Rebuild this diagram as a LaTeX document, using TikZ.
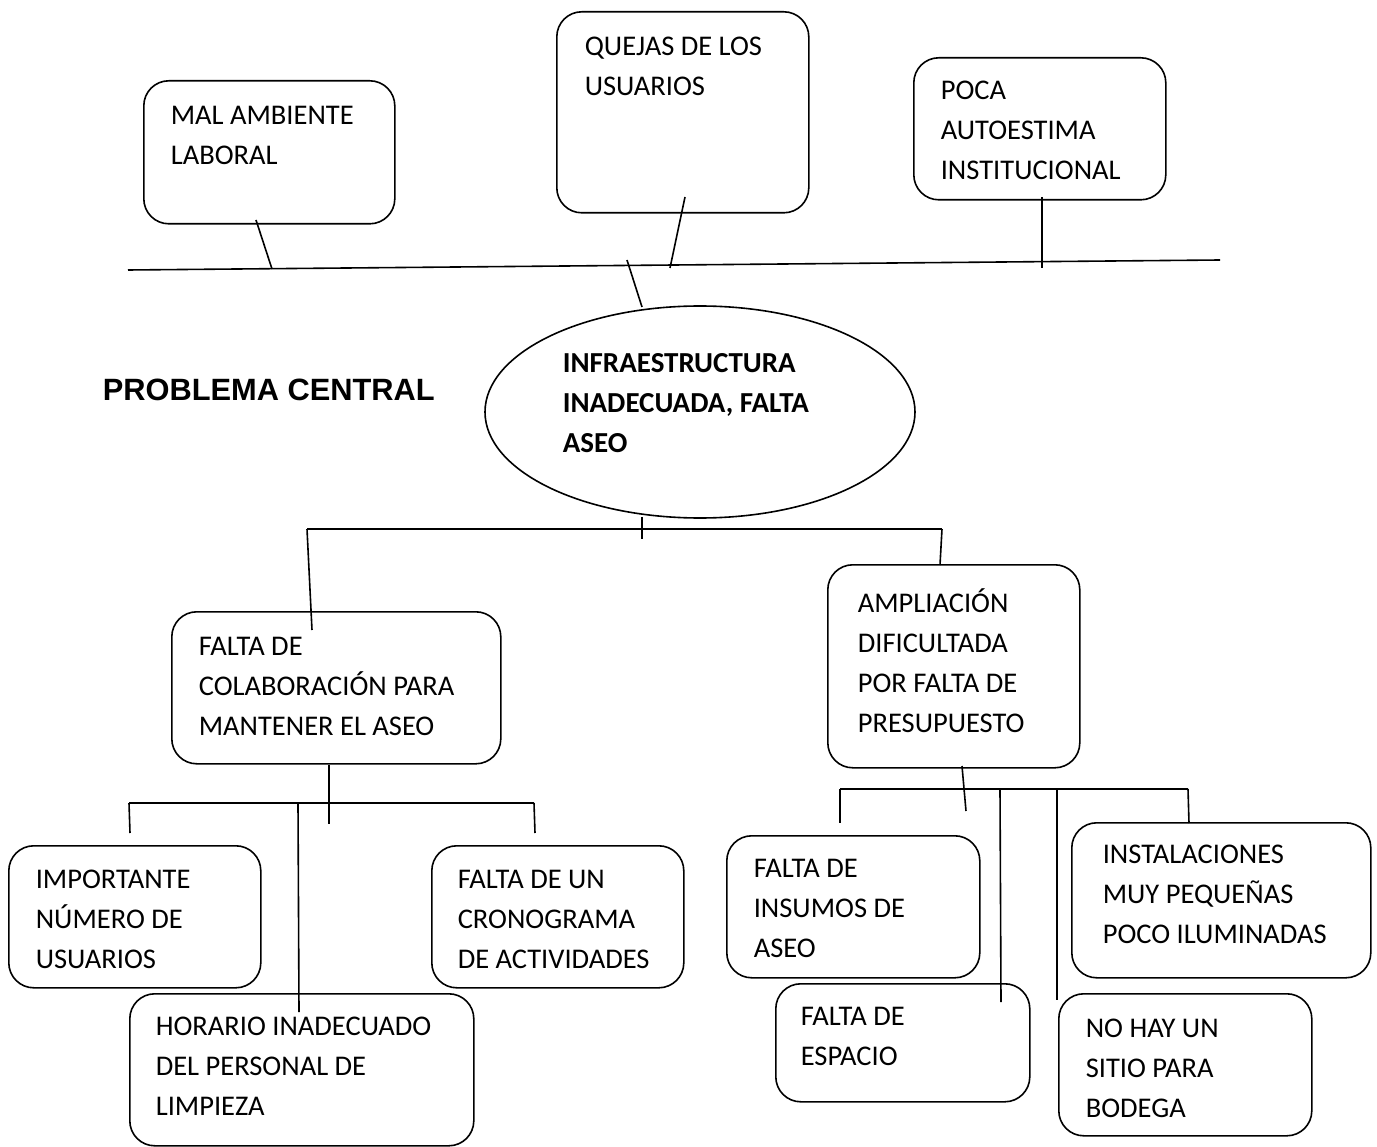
\documentclass[tikz,border=0pt]{standalone}
\usepackage{fontspec}
\setmainfont{Carlito}
\newfontfamily\titlefont{Liberation Sans}
\usetikzlibrary{shapes.geometric}
\newcommand\ml[1]{\begin{tabular}[t]{@{}l@{}}#1\end{tabular}}
\begin{document}
\begin{tikzpicture}[x=1pt,y=-1pt,line width=1.6pt,
  box/.style={draw, rounded corners=25pt, anchor=north west, inner sep=0pt},
  txt/.style={anchor=base west, inner sep=0pt, font=\fontsize{28.5}{40}\selectfont},
  btxt/.style={txt, font=\bfseries\fontsize{29}{40}\selectfont}]
\useasboundingbox (0,0) rectangle (1377,1147);

% top boxes
\node[box, minimum width=251, minimum height=143] (b1) at (143,80) {};
\node[txt] (t1) at (170,125) {\ml{MAL AMBIENTE\\LABORAL}};
\node[box, minimum width=252, minimum height=201] (b2) at (556,11) {};
\node[txt] (t2) at (584,56) {\ml{QUEJAS DE LOS\\USUARIOS}};
\node[box, minimum width=252, minimum height=142] (b3) at (913,57) {};
\node[txt] (t3) at (940,100) {\ml{POCA\\AUTOESTIMA\\INSTITUCIONAL}};

% spine
\coordinate (sL) at (128,270);
\coordinate (sR) at (1220,260);
\draw (sL) -- (sR);
\coordinate (b1a) at (256,220); \coordinate (b1b) at (272,269);
\draw (b1a) -- (b1b);
\coordinate (b2a) at (685,197); \coordinate (b2b) at (670,268);
\draw (b2a) -- (b2b);
\coordinate (b3a) at (1042,197); \coordinate (b3b) at (1042,268);
\draw (b3a) -- (b3b);

% central problem
\node[anchor=base west, inner sep=0pt, font=\titlefont\bfseries\fontsize{30.8}{36}\selectfont] (title) at (102,401) {PROBLEMA CENTRAL};
\node[draw, ellipse, minimum width=430, minimum height=212, inner sep=0pt] (pc) at (700,412) {};
\node[btxt] (tpc) at (562,373) {\ml{INFRAESTRUCTURA\\INADECUADA, FALTA\\ASEO}};
\coordinate (pa) at (627,260); \coordinate (pb) at (642,307);
\draw (pa) -- (pb);

% branch below ellipse
\coordinate (k1) at (642,517); \coordinate (k2) at (642,539);
\draw (k1) -- (k2);
\coordinate (hL) at (307,529); \coordinate (hR) at (942,529);
\draw (hL) -- (hR);
\coordinate (hLd) at (312,630); \coordinate (hRd) at (940,565);
\draw (hL) -- (hLd);
\draw (hR) -- (hRd);

% second level boxes
\node[box, minimum width=329, minimum height=152] (c1) at (171,611) {};
\node[txt] (tc1) at (198,655) {\ml{FALTA DE\\COLABORACIÓN PARA\\MANTENER EL ASEO}};
\node[box, minimum width=252, minimum height=203] (c2) at (827,564) {};
\node[txt] (tc2) at (857,612) {\ml{AMPLIACIÓN\\DIFICULTADA\\POR FALTA DE\\PRESUPUESTO}};

% left sub-branch
\coordinate (c1a) at (329,765); \coordinate (c1b) at (329,824);
\draw (c1a) -- (c1b);
\coordinate (lL) at (129,803); \coordinate (lR) at (534,803);
\draw (lL) -- (lR);
\coordinate (lLd) at (130,833); \coordinate (lRd) at (535,833);
\draw (lL) -- (lLd);
\draw (lR) -- (lRd);
\coordinate (lM) at (298,803); \coordinate (lMd) at (299,1012);
\draw (lM) -- (lMd);

\node[box, minimum width=252, minimum height=142] (d1) at (8,845) {};
\node[txt] (td1) at (35,888) {\ml{IMPORTANTE\\NÚMERO DE\\USUARIOS}};
\node[box, minimum width=252, minimum height=142] (d2) at (431,845) {};
\node[txt] (td2) at (457,888) {\ml{FALTA DE UN\\CRONOGRAMA\\DE ACTIVIDADES}};
\node[box, minimum width=344, minimum height=152] (d3) at (129,993) {};
\node[txt] (td3) at (155,1035) {\ml{HORARIO INADECUADO\\DEL PERSONAL DE\\LIMPIEZA}};

% right sub-branch
\coordinate (c2a) at (962,766); \coordinate (c2b) at (966,811);
\draw (c2a) -- (c2b);
\coordinate (rL) at (840,789); \coordinate (rR) at (1188,789);
\draw (rL) -- (rR);
\coordinate (rLd) at (840,823); \coordinate (rRd) at (1189,823);
\draw (rL) -- (rLd);
\draw (rR) -- (rRd);
\coordinate (r1) at (1000,789); \coordinate (r1d) at (1001,1002);
\draw (r1) -- (r1d);
\coordinate (r2) at (1057,789); \coordinate (r2d) at (1057,1000);
\draw (r2) -- (r2d);

\node[box, minimum width=253, minimum height=142] (e1) at (726,835) {};
\node[txt] (te1) at (753,877) {\ml{FALTA DE\\INSUMOS DE\\ASEO}};
\node[box, minimum width=254, minimum height=118] (e2) at (775,983) {};
\node[txt] (te2) at (800,1025) {\ml{FALTA DE\\ESPACIO}};
\node[box, minimum width=299, minimum height=155] (e3) at (1071,822) {};
\node[txt] (te3) at (1102,863) {\ml{INSTALACIONES\\MUY PEQUEÑAS\\POCO ILUMINADAS}};
\node[box, minimum width=253, minimum height=142] (e4) at (1058,993) {};
\node[txt] (te4) at (1085,1037) {\ml{NO HAY UN\\SITIO PARA\\BODEGA}};
\end{tikzpicture}
\end{document}
